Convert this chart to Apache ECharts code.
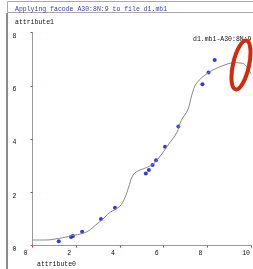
<!DOCTYPE html>
<html>
<head>
<meta charset="utf-8">
<script src="https://cdn.jsdelivr.net/npm/echarts@6/dist/echarts.min.js"></script>
<style>
  html, body { margin: 0; padding: 0; background: #fff; }
  #chart { width: 253px; height: 269px; }
</style>
</head>
<body>
<div id="chart"></div>
<script>
// 数据：散点（观测值）
var pointsX = [1.2, 1.76, 1.85, 2.27, 3.13, 3.77, 5.18, 5.32, 5.49, 5.65, 6.06, 6.67, 7.77, 8.05, 8.33];
var pointsY = [0.16, 0.32, 0.36, 0.52, 1.0, 1.42, 2.71, 2.84, 3.03, 3.21, 3.71, 4.48, 6.06, 6.5, 6.97];
// 拟合曲线（从图上读出的点）
var curveX = [0, 0.6, 1.2, 1.8, 2.3, 2.55, 2.9, 3.2, 3.5, 3.8, 4.0, 4.2, 4.4, 4.55, 4.75, 5.2, 5.5, 5.8, 6.2, 6.6, 6.8, 7.1, 7.3, 7.5, 8.05, 8.7, 9.25, 9.6, 9.85, 10];
var curveY = [0.21, 0.21, 0.27, 0.37, 0.46, 0.55, 0.78, 0.98, 1.22, 1.37, 1.48, 1.75, 2.2, 2.58, 2.77, 2.93, 3.05, 3.32, 3.78, 4.25, 4.7, 5.1, 5.7, 6.1, 6.5, 6.76, 6.87, 6.85, 6.66, 6.45];
var xTicks = [0, 2, 4, 6, 8, 10];
var yTicks = [0, 2, 4, 6, 8];
var seriesName = 'd1.mb1-A30:8N:9.';

var font = 'Liberation Mono';
var myChart = echarts.init(document.getElementById('chart'));

var option = {
  animation: false,
  textStyle: { fontFamily: font },
  title: [
    { text: 'Applying facode A30:8N:9 to file d1.mb1', left: 10, top: 1,
      textStyle: { fontFamily: font, fontSize: 6.5, fontWeight: 'normal', color: '#3a3ad0' } },
    { text: 'attribute1', left: 10, top: 14,
      textStyle: { fontFamily: font, fontSize: 6.5, fontWeight: 'normal', color: '#111' } },
    { text: 'attribute0', left: 32, top: 256,
      textStyle: { fontFamily: font, fontSize: 6.5, fontWeight: 'normal', color: '#111' } }
  ],
  legend: {
    left: 183, top: 31,
    itemWidth: 0, itemHeight: 0,
    data: [{ name: seriesName, icon: 'none' }],
    textStyle: { fontFamily: font, fontSize: 6.5, color: '#111' }
  },
  grid: { left: 32.5, top: 32.7, right: 1.3, bottom: 23.4 },
  xAxis: {
    type: 'value', min: xTicks[0], max: xTicks[xTicks.length - 1], interval: 2,
    axisLine: { lineStyle: { color: '#999', width: 1 } },
    axisTick: { show: true, length: 2, lineStyle: { color: '#e03030' } },
    axisLabel: { fontFamily: font, fontSize: 6.5, color: '#111', margin: 4, align: 'left', padding: [0, 0, 0, -9] },
    splitLine: { show: false }
  },
  yAxis: {
    type: 'value', min: yTicks[0], max: yTicks[yTicks.length - 1], interval: 2,
    axisLine: { show: true, lineStyle: { color: '#999', width: 1 } },
    axisTick: { show: true, length: 2, lineStyle: { color: '#e03030' } },
    axisLabel: { fontFamily: font, fontSize: 6.5, color: '#111', margin: 16, verticalAlign: 'top' },
    splitLine: { show: false }
  },
  graphic: [
    { type: 'rect', shape: { x: 7.5, y: 1.5, width: 250, height: 11 }, style: { fill: 'none', stroke: '#aaa', lineWidth: 1 } },
    { type: 'line', shape: { x1: 7, y1: 13, x2: 7, y2: 269 }, style: { stroke: '#666', lineWidth: 1.5 } },
    { type: 'ellipse', shape: { cx: 241, cy: 65, rx: 8, ry: 25 }, rotation: -0.22, originX: 241, originY: 65,
      style: { fill: 'none', stroke: '#d42a0c', lineWidth: 4 }, z: 100 }
  ],
  series: [
    {
      name: seriesName,
      type: 'line',
      smooth: 0.4,
      showSymbol: false,
      lineStyle: { color: '#888', width: 1 },
      data: curveX.map(function (x, i) { return [x, curveY[i]]; })
    },
    {
      name: 'points',
      type: 'scatter',
      symbol: 'circle',
      symbolSize: 4,
      itemStyle: { color: '#0000ff' },
      data: pointsX.map(function (x, i) { return [x, pointsY[i]]; })
    }
  ]
};
myChart.setOption(option);
</script>
</body>
</html>
